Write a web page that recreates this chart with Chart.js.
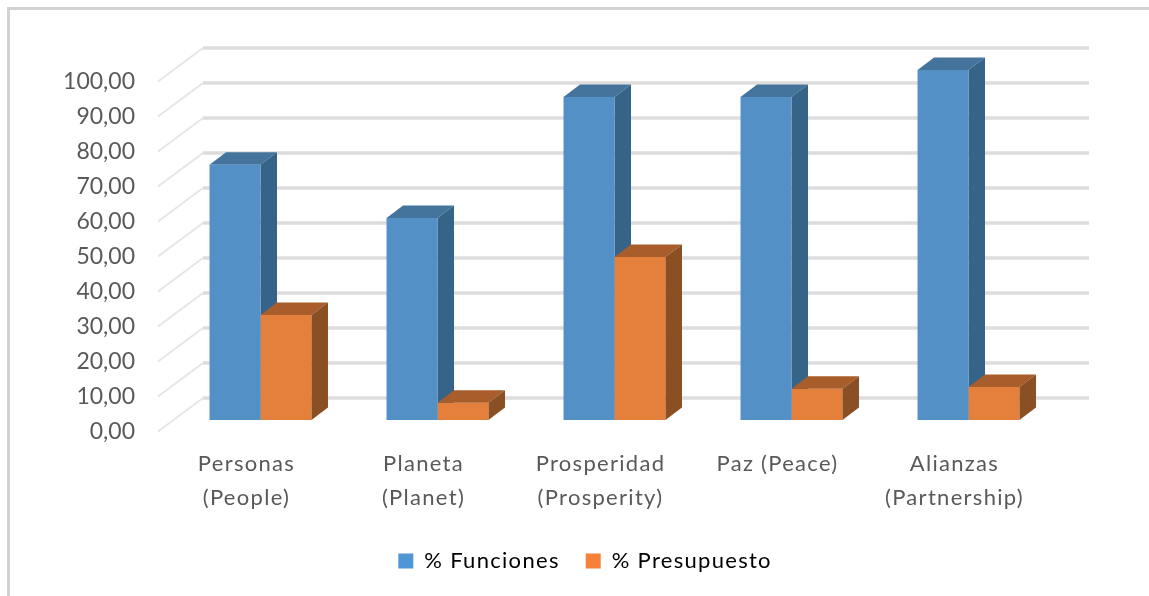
<!DOCTYPE html>
<html>
<head>
<meta charset="utf-8">
<title>Funciones y presupuesto</title>
<script src="https://cdn.jsdelivr.net/npm/chart.js@4"></script>
<style>
  html, body { margin: 0; padding: 0; background: #fff; overflow: hidden; }
  #frame { position: absolute; left: 7px; top: 7px; width: 1142px; height: 589px; border-left: 3px solid #d2d2d2; border-top: 3px solid #d2d2d2; box-sizing: border-box; }
  #chart { position: absolute; left: 0; top: 0; }
</style>
</head>
<body>
<div id="frame"></div>
<canvas id="chart" width="1149" height="596"></canvas>
<script>
const categories = [['Personas', '(People)'], ['Planeta', '(Planet)'], ['Prosperidad', '(Prosperity)'], 'Paz (Peace)', ['Alianzas', '(Partnership)']];
const funciones = [72.9, 57.7, 92.3, 92.3, 100];
const presupuesto = [30, 4.9, 46.6, 8.9, 9.4];
const yTicks = [0, 10, 20, 30, 40, 50, 60, 70, 80, 90, 100];

const TEXT = '#595959';
const FONT = 'Lato, sans-serif';
const SPACING = '1.3px';

// colores de cada cara del prisma, por serie
const faces = [
  { front: '#5390c6', top: '#44739c', side: '#366388' },
  { front: '#e57f3c', top: '#a85d2b', side: '#8a4f22' }
];

// profundidad de las barras
const BAR_DX = 16.5;
const BAR_DY = 12.5;

// caras superior y lateral de una serie
const drawPrisms = (chart, index) => {
  const { ctx } = chart;
  const colors = faces[index];
  const base = chart.scales.y.getPixelForValue(0);
  ctx.save();
  chart.getDatasetMeta(index).data.forEach(bar => {
    const l = bar.x - bar.width / 2;
    const r = bar.x + bar.width / 2;
    const t = bar.y;
    ctx.fillStyle = colors.top;
    ctx.beginPath();
    ctx.moveTo(l, t);
    ctx.lineTo(l + BAR_DX, t - BAR_DY);
    ctx.lineTo(r + BAR_DX, t - BAR_DY);
    ctx.lineTo(r, t);
    ctx.closePath();
    ctx.fill();
    ctx.fillStyle = colors.side;
    ctx.beginPath();
    ctx.moveTo(r, t);
    ctx.lineTo(r + BAR_DX, t - BAR_DY);
    ctx.lineTo(r + BAR_DX, base - BAR_DY);
    ctx.lineTo(r, base);
    ctx.closePath();
    ctx.fill();
  });
  ctx.restore();
};

const wallPlugin = {
  id: 'wall',
  afterLayout(chart) {
    // centrar la leyenda como en el original
    chart.legend.left += 11;
    chart.legend.right += 11;
  },
  beforeDraw(chart) {
    chart.ctx.letterSpacing = SPACING;
  },
  beforeDatasetsDraw(chart) {
    const { ctx, scales: { y } } = chart;
    // las etiquetas del eje y se pintan despues, sin espaciado
    ctx.letterSpacing = '0px';
    ctx.save();
    yTicks.forEach(v => {
      const py = y.getPixelForValue(v);
      ctx.strokeStyle = '#dddddd';
      ctx.lineWidth = 3.5;
      ctx.beginPath();
      ctx.moveTo(203, py - 22);
      ctx.lineTo(1089, py - 22);
      ctx.stroke();
      ctx.strokeStyle = '#e6e6e6';
      ctx.lineWidth = 2;
      ctx.beginPath();
      ctx.moveTo(158, py + 11.5);
      ctx.lineTo(203, py - 22);
      ctx.stroke();
    });
    ctx.restore();
    // el lateral azul queda detras de la barra naranja
    drawPrisms(chart, 0);
  },
  afterDatasetsDraw(chart) {
    drawPrisms(chart, 1);
  }
};

const canvas = document.getElementById('chart');
canvas.getContext('2d').letterSpacing = SPACING;

new Chart(canvas, {
  type: 'bar',
  data: {
    labels: categories,
    datasets: [
      { label: '% Funciones', data: funciones, backgroundColor: faces[0].front },
      { label: '% Presupuesto', data: presupuesto, backgroundColor: faces[1].front }
    ]
  },
  plugins: [wallPlugin],
  options: {
    responsive: false,
    animation: false,
    layout: { padding: { left: 60, right: 92, top: 70, bottom: 14 } },
    datasets: { bar: { barPercentage: 1, categoryPercentage: 0.576 } },
    plugins: {
      tooltip: { enabled: false },
      legend: {
        position: 'bottom',
        labels: {
          boxWidth: 15, boxHeight: 15, padding: 26, color: TEXT,
          font: { family: FONT, size: 22 },
          generateLabels: () => [
            { text: '% Funciones', fillStyle: '#5095d5', strokeStyle: '#5095d5', lineWidth: 0, datasetIndex: 0 },
            { text: '% Presupuesto', fillStyle: '#f58238', strokeStyle: '#f58238', lineWidth: 0, datasetIndex: 1 }
          ]
        }
      }
    },
    scales: {
      x: {
        grid: { display: false },
        border: { display: false },
        afterFit: s => { s.height = 104; },
        ticks: {
          autoSkip: false, maxRotation: 0, minRotation: 0, padding: 19, labelOffset: -14,
          color: TEXT, font: { family: FONT, size: 22, lineHeight: 1.55 }
        }
      },
      y: {
        min: 0,
        max: 100,
        grid: { display: false, drawTicks: false },
        border: { display: false },
        afterFit: s => { s.width = 112; },
        afterBuildTicks: s => { s.ticks = yTicks.map(value => ({ value })); },
        ticks: {
          z: 1, padding: 37, labelOffset: 12,
          color: TEXT, font: { family: FONT, size: 23 },
          callback: v => v.toFixed(2).replace('.', ',')
        }
      }
    }
  }
});
</script>
</body>
</html>
